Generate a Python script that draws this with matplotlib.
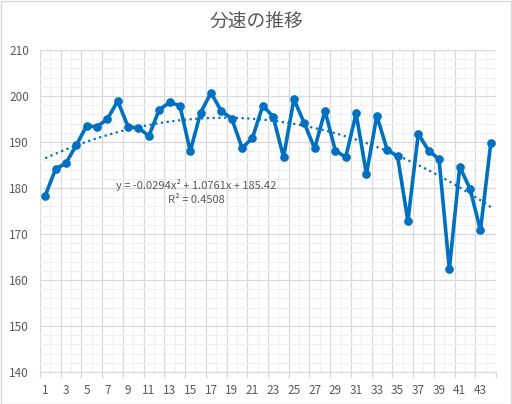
import matplotlib
matplotlib.use('Agg')
import matplotlib.pyplot as plt
import numpy as np
from matplotlib.patches import Rectangle

plt.rcParams['font.family'] = ['Noto Sans CJK JP', 'DejaVu Sans']

# data
idx = list(range(1, 45))
speed = [178.3, 184.1, 185.4, 189.3, 193.5, 193.3, 195.0, 198.9, 193.3, 193.1,
         191.3, 197.0, 198.6, 197.9, 188.0, 196.4, 200.7, 196.7, 195.1, 188.7,
         190.9, 197.9, 195.5, 186.7, 199.3, 194.1, 188.6, 196.8, 188.1, 186.7,
         196.2, 183.0, 195.7, 188.3, 186.9, 172.8, 191.8, 188.1, 186.3, 162.3,
         184.6, 179.8, 170.8, 189.8]
x_labels = [str(i) for i in range(1, 45, 2)]
# polynomial trend coefficients as printed on the chart
coef = [-0.0294, 1.0761, 185.42]
r2 = 0.4508

blue = '#0070C0'
gray_txt = '#595959'

fig = plt.figure(figsize=(5.12, 4.04), dpi=100)
ax = fig.add_axes([40 / 512, 1 - 372 / 404, 456 / 512, 322 / 404])

ax.set_xlim(0.5, 44.5)
ax.set_ylim(140, 210)

# grid
ax.set_yticks(np.arange(140, 211, 10))
ax.set_yticks(np.arange(140, 211, 2), minor=True)
ax.set_xticks(np.arange(0.5, 45, 2))
ax.set_xticks(np.arange(1.5, 45, 2), minor=True)
ax.grid(which='major', color='#D9D9D9', lw=0.9)
ax.grid(which='minor', color='#F0F0F0', lw=0.9)
ax.set_axisbelow(True)
ax.set_xticklabels([])
for x, lab in zip(range(1, 45, 2), x_labels):
    ax.text(x, 137.5, lab, ha='center', va='top', fontsize=8.5, color=gray_txt)

ax.tick_params(axis='y', which='both', length=0, labelsize=8.5, labelcolor=gray_txt, pad=8)
ax.tick_params(axis='x', which='major', length=4, color='#D9D9D9', width=0.9)
ax.tick_params(axis='x', which='minor', length=0)
for s in ['top', 'right', 'left']:
    ax.spines[s].set_visible(False)
ax.spines['bottom'].set_color('#D9D9D9')

# trend line
tx = np.linspace(1, 44, 200)
ax.plot(tx, np.polyval(coef, tx), color=blue, lw=1.6, ls=(0, (1, 1.6)), zorder=2)

ax.plot(idx, speed, color=blue, lw=2.6, marker='o', ms=5.2, zorder=3)

ax.text(15.6, 180.7, 'y = -0.0294x² + 1.0761x + 185.42', fontsize=8, color=gray_txt,
        ha='center', va='center')
ax.text(15.6, 177.4, 'R² = %.4f' % r2, fontsize=8, color=gray_txt, ha='center', va='center')

fig.text(0.5, 1 - 22 / 404, '分速の推移', ha='center', va='center', fontsize=13.5, color=gray_txt)

fig.patches.append(Rectangle((0.5 / 512, 0.5 / 404), 1 - 1.5 / 512, 1 - 1.5 / 404,
                             transform=fig.transFigure, fill=False, ec='#D9D9D9', lw=1))

fig.savefig('out.png', dpi=100)
